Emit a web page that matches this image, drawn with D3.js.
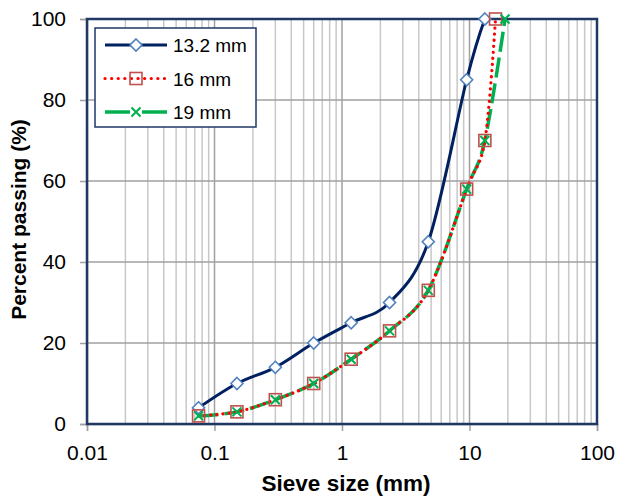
<!DOCTYPE html>
<html>
<head>
<meta charset="utf-8">
<script src="https://cdn.jsdelivr.net/npm/d3@7"></script>
<style>
  body { margin: 0; background: #fff; }
  text { font-family: "Liberation Sans", Arial, sans-serif; }
</style>
</head>
<body>
<svg id="chart" width="619" height="497"></svg>
<script>
// sieve sizes (mm) and percent passing
const sieves = [0.075, 0.15, 0.3, 0.6, 1.18, 2.36, 4.75, 9.5, 13.2, 16, 19];
const pass132 = [4, 10, 14, 20, 25, 30, 45, 85, 100];
const pass16 = [2, 3, 6, 10, 16, 23, 33, 58, 70, 100];
const pass19 = [2, 3, 6, 10, 16, 23, 33, 58, 70, null, 100];
const xTicks = [0.01, 0.1, 1, 10, 100];
const yTicks = [0, 20, 40, 60, 80, 100];

const series = [
  { name: '13.2 mm', values: pass132, stroke: '#002060', dash: null, width: 3, marker: 'diamond' },
  { name: '16 mm', values: pass16, stroke: '#ff0000', dash: '0.1,6', width: 3.2, marker: 'square' },
  { name: '19 mm', values: pass19, stroke: '#00b050', dash: '20,6', width: 3.5, marker: 'cross' }
];

const margin = { top: 19, right: 22, bottom: 73, left: 87 };
const width = 619 - margin.left - margin.right,
  height = 497 - margin.top - margin.bottom;

const svg = d3.select('#chart');
const g = svg.append('g').attr('transform', `translate(${margin.left},${margin.top})`);

const x = d3.scaleLog().domain([0.01, 100]).range([0, width]);
const y = d3.scaleLinear().domain([0, 100]).range([height, 0]);

// minor vertical grid
const minor = [];
for (let dec = 0.01; dec < 100; dec *= 10) {
  for (let k = 2; k <= 9; k++) minor.push(dec * k);
}
g.selectAll('.minor').data(minor).enter().append('line')
  .attr('x1', d => x(d)).attr('x2', d => x(d))
  .attr('y1', 0).attr('y2', height)
  .attr('stroke', '#c8c8c8').attr('stroke-width', 1.5);

g.selectAll('.major').data(xTicks).enter().append('line')
  .attr('x1', d => x(d)).attr('x2', d => x(d))
  .attr('y1', 0).attr('y2', height)
  .attr('stroke', '#a0a0a0').attr('stroke-width', 1.5);

g.selectAll('.hgrid').data(yTicks).enter().append('line')
  .attr('x1', 0).attr('x2', width)
  .attr('y1', d => y(d)).attr('y2', d => y(d))
  .attr('stroke', '#a0a0a0').attr('stroke-width', 1.5);

// axes
const yAxis = g.append('g')
  .call(d3.axisLeft(y).tickValues(yTicks).tickSize(7).tickPadding(14));
const xAxis = g.append('g')
  .attr('transform', `translate(0,${height})`)
  .call(d3.axisBottom(x).tickValues(xTicks).tickFormat(d => String(d)).tickSize(7).tickPadding(14));
[yAxis, xAxis].forEach(a => {
  a.select('.domain').attr('stroke', '#a0a0a0').attr('stroke-width', 1.5);
  a.selectAll('.tick line').attr('stroke', '#a0a0a0').attr('stroke-width', 1.5);
  a.selectAll('text').attr('font-size', 21).attr('fill', '#000')
    .style('font-family', '"Liberation Sans", Arial, sans-serif');
});

// frame
g.append('rect').attr('x', 0).attr('y', 0).attr('width', width).attr('height', height)
  .attr('fill', 'none').attr('stroke', '#1f3864').attr('stroke-width', 2.5);

// lines, smoothed like the spreadsheet original
const line = d3.line()
  .defined(d => d[1] != null)
  .x(d => x(d[0]))
  .y(d => y(d[1]))
  .curve(d3.curveCatmullRom.alpha(0));

function pts(s) {
  return s.values.map((v, i) => [sieves[i], v]).filter(d => d[1] != null);
}

function drawMarker(sel, type, cx, cy) {
  if (type === 'diamond') {
    sel.append('path')
      .attr('d', `M${cx},${cy - 6}L${cx + 6},${cy}L${cx},${cy + 6}L${cx - 6},${cy}Z`)
      .attr('fill', '#fff').attr('stroke', '#4f81bd').attr('stroke-width', 1.6);
  } else if (type === 'square') {
    sel.append('rect').attr('x', cx - 6).attr('y', cy - 6).attr('width', 12).attr('height', 12)
      .attr('fill', 'none').attr('stroke', '#c0504d').attr('stroke-width', 1.6);
  } else {
    sel.append('path')
      .attr('d', `M${cx - 4.5},${cy - 4.5}L${cx + 4.5},${cy + 4.5}M${cx - 4.5},${cy + 4.5}L${cx + 4.5},${cy - 4.5}`)
      .attr('stroke', '#00b050').attr('stroke-width', 2);
  }
}

// draw lines 19 first so dotted red on top like the reference
[series[2], series[1], series[0]].forEach(s => {
  g.append('path').datum(pts(s))
    .attr('d', line)
    .attr('fill', 'none')
    .attr('stroke', s.stroke)
    .attr('stroke-width', s.width)
    .attr('stroke-dasharray', s.dash)
    .attr('stroke-linecap', s.marker === 'square' ? 'round' : 'butt');
});
series.forEach(s => {
  const mg = g.append('g');
  pts(s).forEach(d => drawMarker(mg, s.marker, x(d[0]), y(d[1])));
});

// legend
const lg = g.append('g').attr('transform', 'translate(8,9)');
lg.append('rect').attr('width', 161).attr('height', 99)
  .attr('fill', '#fff').attr('stroke', '#1f3864').attr('stroke-width', 1.5);
series.forEach((s, i) => {
  const ly = 17 + i * 33.5;
  lg.append('line').attr('x1', 10).attr('x2', 72).attr('y1', ly).attr('y2', ly)
    .attr('stroke', s.stroke).attr('stroke-width', s.width)
    .attr('stroke-dasharray', s.dash ? (s.marker === 'square' ? '0.1,6.5' : '26,10') : null)
    .attr('stroke-linecap', s.marker === 'square' ? 'round' : 'butt');
  if (s.marker === 'cross') {
    lg.append('rect').attr('x', 35).attr('y', ly - 5).attr('width', 12).attr('height', 10).attr('fill', '#fff');
  }
  drawMarker(lg, s.marker, 41, ly);
  lg.append('text').attr('x', 78).attr('y', ly + 7).attr('font-size', 19).text(s.name);
});

// axis titles
svg.append('text')
  .attr('transform', `translate(26,${margin.top + height / 2 - 2}) rotate(-90)`)
  .attr('text-anchor', 'middle').attr('font-size', 21).attr('font-weight', 'bold')
  .text('Percent passing (%)');
svg.append('text')
  .attr('x', 346).attr('y', 491)
  .attr('text-anchor', 'middle').attr('font-size', 22.5).attr('font-weight', 'bold')
  .text('Sieve size (mm)');
</script>
</body>
</html>
